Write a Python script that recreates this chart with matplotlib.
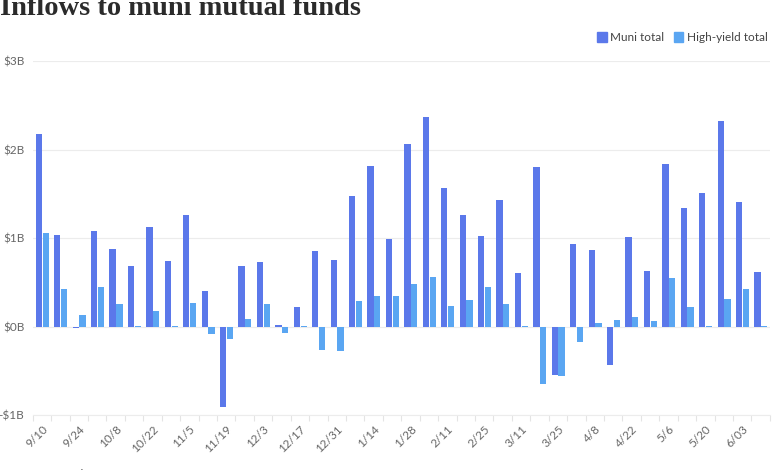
import numpy as np
import matplotlib.pyplot as plt
from matplotlib.patches import Patch

plt.rcParams["font.family"] = ["Lato", "DejaVu Sans"]

# weekly flows, $ billions
weeks = [
    "9/10", "9/17", "9/24", "10/1", "10/8", "10/15", "10/22", "10/29",
    "11/5", "11/12", "11/19", "11/26", "12/3", "12/10", "12/17", "12/24",
    "12/31", "1/7", "1/14", "1/21", "1/28", "2/4", "2/11", "2/18",
    "2/25", "3/4", "3/11", "3/18", "3/25", "4/1", "4/8", "4/15",
    "4/22", "4/29", "5/6", "5/13", "5/20", "5/27", "6/03", "6/10",
]
muni_total = [
    2.18, 1.04, -0.02, 1.08, 0.88, 0.68, 1.12, 0.74,
    1.26, 0.40, -0.91, 0.68, 0.73, 0.02, 0.22, 0.85,
    0.75, 1.48, 1.82, 0.99, 2.06, 2.37, 1.57, 1.26,
    1.02, 1.43, 0.61, 1.80, -0.55, 0.93, 0.86, -0.43,
    1.01, 0.63, 1.84, 1.34, 1.51, 2.32, 1.41, 0.62,
]
high_yield_total = [
    1.06, 0.42, 0.13, 0.45, 0.26, 0.01, 0.17, 0.005,
    0.27, -0.08, -0.14, 0.09, 0.25, -0.07, 0.01, -0.27,
    -0.28, 0.29, 0.34, 0.35, 0.48, 0.56, 0.23, 0.30,
    0.45, 0.26, 0.01, -0.65, -0.56, -0.18, 0.04, 0.07,
    0.11, 0.06, 0.55, 0.22, 0.005, 0.31, 0.42, 0.005,
]
y_ticks = [-1, 0, 1, 2, 3]
y_labels = ["-$1B", "$0B", "$1B", "$2B", "$3B"]

muni_color = "#5b78ea"
hy_color = "#5aa6f2"
text_gray = "#666666"

fig = plt.figure(figsize=(7.8, 4.7), dpi=100)
ax = fig.add_axes([0.042, 0.117, 0.945, 0.753])

x = np.arange(len(weeks))
w = 0.34
ax.bar(x - 0.17, muni_total, width=w, color=muni_color, zorder=3)
ax.bar(x + 0.2, high_yield_total, width=w, color=hy_color, zorder=3)

ax.set_xlim(-0.5, len(weeks) - 0.5)
ax.set_ylim(-1, 3)
ax.set_yticks(y_ticks)
ax.set_yticklabels(y_labels)
ax.grid(axis="y", color="#ececec", linewidth=0.8, zorder=0)

ax.set_xticks(x[::2])
ax.set_xticklabels(weeks[::2], rotation=45, ha="right", rotation_mode="anchor")
ax.set_xticks(np.arange(-0.5, len(weeks), 1), minor=True)
ax.tick_params(axis="x", which="major", length=0, pad=6, labelsize=8.5, labelcolor=text_gray)
ax.tick_params(axis="x", which="minor", length=4, color="#e4e4e4", width=0.8)
ax.tick_params(axis="y", length=0, pad=6, labelsize=8.5, labelcolor=text_gray)

for s in ["top", "right", "left"]:
    ax.spines[s].set_visible(False)
ax.spines["bottom"].set_color("#ececec")

fig.text(0.0, 0.968, "Inflows to muni mutual funds", fontsize=20.5,
         fontweight="bold", family="Liberation Serif", color="#2b2b2b", va="baseline")
fig.text(0.003, -0.022, "Source: LSEG Lipper", fontsize=8.5, color=text_gray, va="bottom")

handles = [Patch(color=muni_color, label="Muni total"),
           Patch(color=hy_color, label="High-yield total")]
fig.legend(handles=handles, loc="upper right", bbox_to_anchor=(0.998, 0.955),
           ncol=2, frameon=False, fontsize=8.5, labelcolor="#444444",
           handlelength=0.8, handleheight=1.0, handletextpad=0.3, columnspacing=0.8)

fig.savefig("out.png", dpi=100)
